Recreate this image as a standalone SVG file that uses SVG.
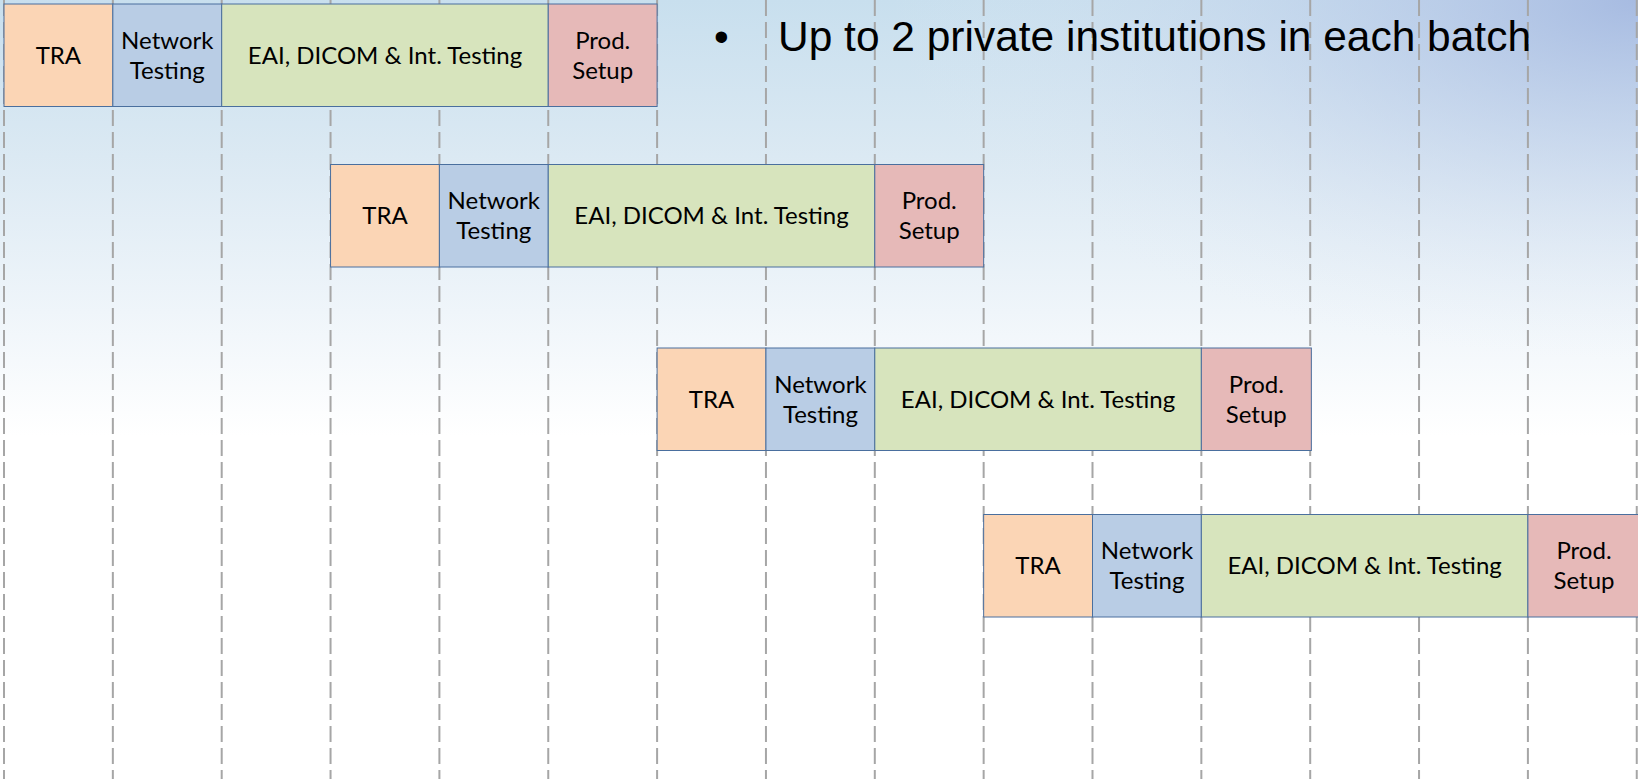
<svg xmlns="http://www.w3.org/2000/svg" width="1638" height="779" viewBox="0 0 1638 779">
<defs>
<linearGradient id="bgV" x1="0" y1="0" x2="0" y2="1">
<stop offset="0" stop-color="#c8dfee"/>
<stop offset="0.2" stop-color="#dbe9f3"/>
<stop offset="0.4" stop-color="#eff5fa"/>
<stop offset="0.56" stop-color="#ffffff"/>
<stop offset="1" stop-color="#ffffff"/>
</linearGradient>
<radialGradient id="bgR" gradientUnits="userSpaceOnUse" cx="1638" cy="0" r="750" gradientTransform="translate(1638 0) scale(1 0.48) translate(-1638 0)">
<stop offset="0" stop-color="#a3b7e0" stop-opacity="0.9"/>
<stop offset="0.45" stop-color="#bccbe9" stop-opacity="0.45"/>
<stop offset="1" stop-color="#e6ecf6" stop-opacity="0"/>
</radialGradient>
<style>
.grid{stroke:#a6a6a6;stroke-width:2;stroke-dasharray:16 6;fill:none}
.box{stroke:#4a6f9e;stroke-width:1}
.tra{fill:#fbd5b5}
.net{fill:#b9cde5}
.eai{fill:#d7e4bd}
.prod{fill:#e6b9b8}
.lbl{font-family:Lato,"Open Sans","Liberation Sans",sans-serif;font-size:24px;fill:#000;text-anchor:middle}
.head{font-family:"Liberation Sans",Arial,sans-serif;font-size:42px;fill:#000}
</style>
</defs>
<rect x="0" y="0" width="1638" height="779" fill="url(#bgV)"/>
<rect x="0" y="0" width="1638" height="779" fill="url(#bgR)"/>
<g id="grid" class="grid">
<line x1="4" y1="0" x2="4" y2="779"/>
<line x1="112.85" y1="0" x2="112.85" y2="779"/>
<line x1="221.7" y1="0" x2="221.7" y2="779"/>
<line x1="330.55" y1="0" x2="330.55" y2="779"/>
<line x1="439.4" y1="0" x2="439.4" y2="779"/>
<line x1="548.25" y1="0" x2="548.25" y2="779"/>
<line x1="657.1" y1="0" x2="657.1" y2="779"/>
<line x1="765.95" y1="0" x2="765.95" y2="779"/>
<line x1="874.8" y1="0" x2="874.8" y2="779"/>
<line x1="983.65" y1="0" x2="983.65" y2="779"/>
<line x1="1092.5" y1="0" x2="1092.5" y2="779"/>
<line x1="1201.35" y1="0" x2="1201.35" y2="779"/>
<line x1="1310.2" y1="0" x2="1310.2" y2="779"/>
<line x1="1419.05" y1="0" x2="1419.05" y2="779"/>
<line x1="1527.9" y1="0" x2="1527.9" y2="779"/>
<line x1="1636.75" y1="0" x2="1636.75" y2="779"/>
</g>
<g id="header">
<text class="head" x="714" y="51">•</text>
<text class="head" x="778" y="51" textLength="753" lengthAdjust="spacingAndGlyphs">Up to 2 private institutions in each batch</text>
</g>
<g id="batch1">
<g id="b1-tra"><rect class="box tra" x="4" y="4" width="108.85" height="102.5"/><text class="lbl" x="58.4" y="63.5">TRA</text></g>
<g id="b1-net"><rect class="box net" x="112.85" y="4" width="108.85" height="102.5"/><text class="lbl" x="167.3" y="48.5">Network</text><text class="lbl" x="167.3" y="78.5">Testing</text></g>
<g id="b1-eai"><rect class="box eai" x="221.7" y="4" width="326.55" height="102.5"/><text class="lbl" x="385" y="63.5">EAI, DICOM &amp; Int. Testing</text></g>
<g id="b1-prod"><rect class="box prod" x="548.25" y="4" width="108.85" height="102.5"/><text class="lbl" x="602.7" y="48.5">Prod.</text><text class="lbl" x="602.7" y="78.5">Setup</text></g>
</g>
<g id="batch2">
<g id="b2-tra"><rect class="box tra" x="330.55" y="164.5" width="108.85" height="102.5"/><text class="lbl" x="385" y="224">TRA</text></g>
<g id="b2-net"><rect class="box net" x="439.4" y="164.5" width="108.85" height="102.5"/><text class="lbl" x="493.8" y="209">Network</text><text class="lbl" x="493.8" y="239">Testing</text></g>
<g id="b2-eai"><rect class="box eai" x="548.25" y="164.5" width="326.55" height="102.5"/><text class="lbl" x="711.5" y="224">EAI, DICOM &amp; Int. Testing</text></g>
<g id="b2-prod"><rect class="box prod" x="874.8" y="164.5" width="108.85" height="102.5"/><text class="lbl" x="929.2" y="209">Prod.</text><text class="lbl" x="929.2" y="239">Setup</text></g>
</g>
<g id="batch3">
<g id="b3-tra"><rect class="box tra" x="657.1" y="348" width="108.85" height="102.5"/><text class="lbl" x="711.5" y="407.5">TRA</text></g>
<g id="b3-net"><rect class="box net" x="765.95" y="348" width="108.85" height="102.5"/><text class="lbl" x="820.4" y="392.5">Network</text><text class="lbl" x="820.4" y="422.5">Testing</text></g>
<g id="b3-eai"><rect class="box eai" x="874.8" y="348" width="326.55" height="102.5"/><text class="lbl" x="1038" y="407.5">EAI, DICOM &amp; Int. Testing</text></g>
<g id="b3-prod"><rect class="box prod" x="1201.35" y="348" width="110" height="102.5"/><text class="lbl" x="1256.3" y="392.5">Prod.</text><text class="lbl" x="1256.3" y="422.5">Setup</text></g>
</g>
<g id="batch4">
<g id="b4-tra"><rect class="box tra" x="983.65" y="514.5" width="108.85" height="102.5"/><text class="lbl" x="1038" y="574">TRA</text></g>
<g id="b4-net"><rect class="box net" x="1092.5" y="514.5" width="108.85" height="102.5"/><text class="lbl" x="1147" y="559">Network</text><text class="lbl" x="1147" y="589">Testing</text></g>
<g id="b4-eai"><rect class="box eai" x="1201.35" y="514.5" width="326.55" height="102.5"/><text class="lbl" x="1364.6" y="574">EAI, DICOM &amp; Int. Testing</text></g>
<g id="b4-prod"><rect class="box prod" x="1527.9" y="514.5" width="115" height="102.5"/><text class="lbl" x="1584" y="559">Prod.</text><text class="lbl" x="1584" y="589">Setup</text></g>
</g>
</svg>
